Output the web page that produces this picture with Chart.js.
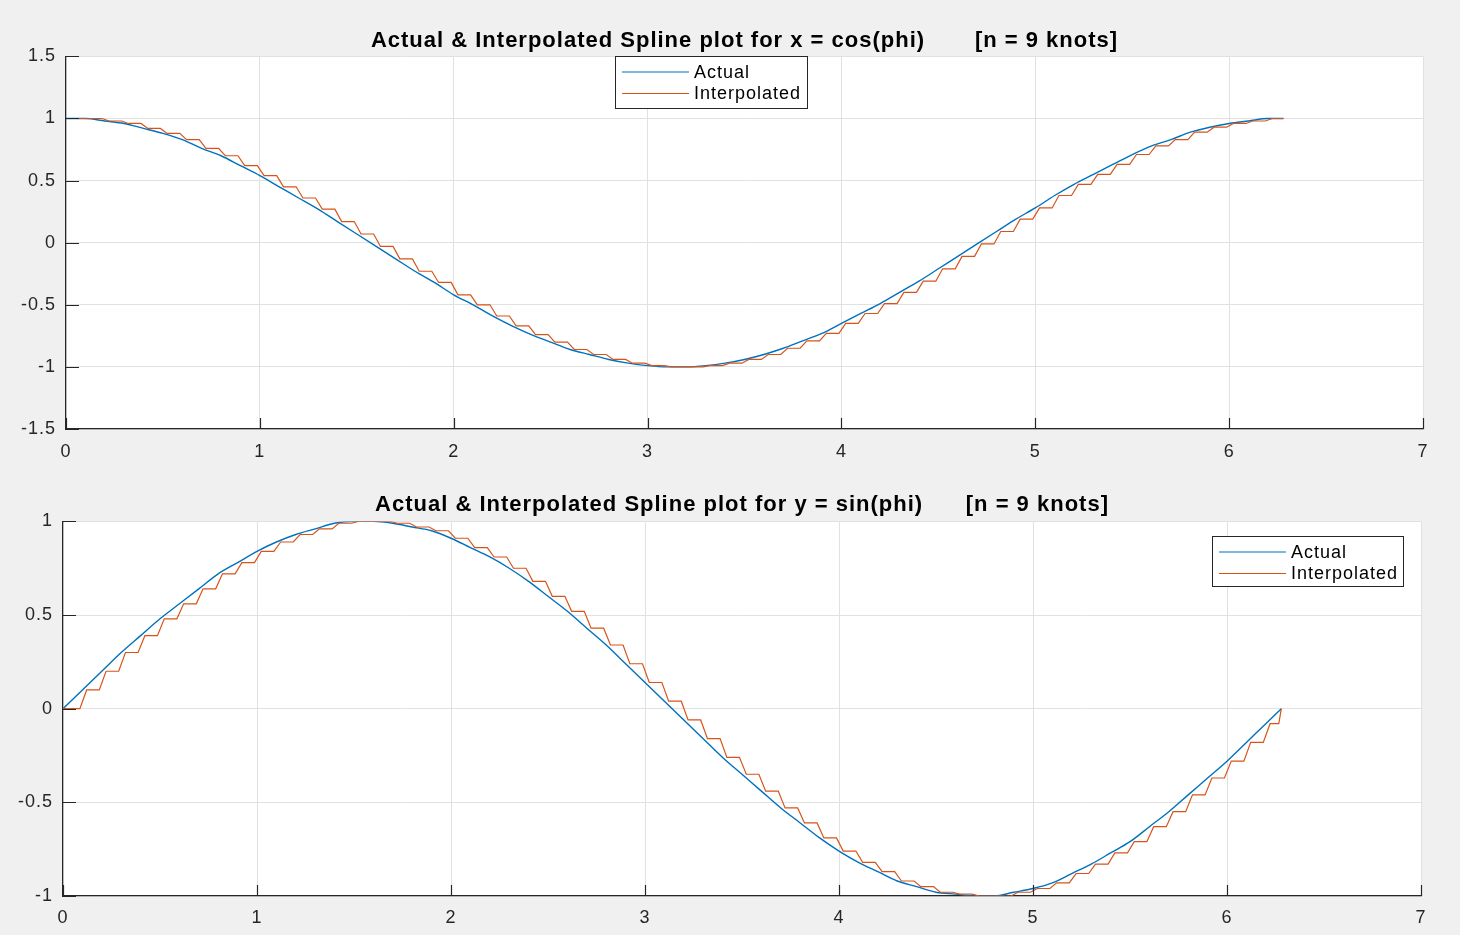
<!DOCTYPE html>
<html>
<head>
<meta charset="utf-8">
<title>Actual & Interpolated Spline plots</title>
<script src="https://cdn.jsdelivr.net/npm/chart.js@4.4.1/dist/chart.umd.min.js"></script>
<style>
  html, body { margin: 0; padding: 0; background: #f0f0f0; }
  canvas { position: absolute; left: 0; }
  #cosChart { top: 0; }
  #sinChart { top: 467px; }
</style>
</head>
<body>
<canvas id="cosChart" width="1460" height="467"></canvas>
<canvas id="sinChart" width="1460" height="468"></canvas>
<script>
// knots along phi (0 .. 2*pi)
const phi = [
  0, 0.1, 0.2, 0.3, 0.4, 0.5, 0.6, 0.7, 0.8, 0.9,
  1.0, 1.1, 1.2, 1.3, 1.4, 1.5, 1.6, 1.7, 1.8, 1.9,
  2.0, 2.1, 2.2, 2.3, 2.4, 2.5, 2.6, 2.7, 2.8, 2.9,
  3.0, 3.1, 3.2, 3.3, 3.4, 3.5, 3.6, 3.7, 3.8, 3.9,
  4.0, 4.1, 4.2, 4.3, 4.4, 4.5, 4.6, 4.7, 4.8, 4.9,
  5.0, 5.1, 5.2, 5.3, 5.4, 5.5, 5.6, 5.7, 5.8, 5.9,
  6.0, 6.1, 6.2, 6.28
];

// x = cos(phi)
const cosValues = [
  1.00, 1.00, 0.98, 0.96, 0.92, 0.88, 0.83, 0.76, 0.70, 0.62,
  0.54, 0.45, 0.36, 0.27, 0.17, 0.07, -0.03, -0.13, -0.23, -0.32,
  -0.42, -0.50, -0.59, -0.67, -0.74, -0.80, -0.86, -0.90, -0.94, -0.97,
  -0.99, -1.00, -1.00, -0.99, -0.97, -0.94, -0.90, -0.85, -0.79, -0.73,
  -0.65, -0.57, -0.49, -0.40, -0.31, -0.21, -0.11, -0.01, 0.09, 0.19,
  0.28, 0.38, 0.47, 0.55, 0.63, 0.71, 0.78, 0.83, 0.89, 0.93,
  0.96, 0.98, 1.00, 1.00
];

// y = sin(phi)
const sinValues = [
  0.00, 0.10, 0.20, 0.30, 0.39, 0.48, 0.56, 0.64, 0.72, 0.78,
  0.84, 0.89, 0.93, 0.96, 0.99, 1.00, 1.00, 0.99, 0.97, 0.95,
  0.91, 0.86, 0.81, 0.75, 0.68, 0.60, 0.52, 0.43, 0.34, 0.24,
  0.14, 0.04, -0.06, -0.16, -0.26, -0.35, -0.44, -0.53, -0.61, -0.69,
  -0.76, -0.82, -0.87, -0.92, -0.95, -0.98, -0.99, -1.00, -1.00, -0.98,
  -0.96, -0.93, -0.88, -0.83, -0.77, -0.71, -0.63, -0.55, -0.46, -0.37,
  -0.28, -0.18, -0.08, 0.00
];

const seriesNames = ['Actual', 'Interpolated'];
const seriesColors = ['#0072BD', '#D95319'];

const xTicks = [0, 1, 2, 3, 4, 5, 6, 7];
const cosYTicks = [-1.5, -1, -0.5, 0, 0.5, 1, 1.5];
const sinYTicks = [-1, -0.5, 0, 0.5, 1];

const FONT = '"Liberation Sans", Arial, Helvetica, sans-serif';
const AXIS_COLOR = '#262626';
const GRID_COLOR = '#e1e1e1';

// interpolated curve holds each knot value until the next knot (short slope on the jump)
function stairPoints(xs, ys) {
    const last = xs[xs.length - 1];
    const pts = [{ x: xs[0], y: ys[0] }];
    for (let i = 1; i < xs.length; i++) {
        pts.push({ x: xs[i] - 0.013, y: ys[i - 1] });
        pts.push({ x: Math.min(xs[i] + 0.022, last), y: ys[i] });
    }
    return pts;
}

function curvePoints(xs, ys) {
    return xs.map((x, i) => ({ x: x, y: ys[i] }));
}

// white plot box, inward ticks and boxed legend like the MATLAB figure
const matlabAxes = {
    id: 'matlabAxes',
    beforeDraw(chart) {
        const { ctx, chartArea: a } = chart;
        ctx.save();
        ctx.fillStyle = '#ffffff';
        ctx.fillRect(a.left, a.top, a.right - a.left, a.bottom - a.top);
        ctx.restore();
        // MATLAB renders its text a bit wider
        ctx.letterSpacing = '1px';
    },
    afterDraw(chart, args, opts) {
        const { ctx, chartArea: a, scales } = chart;
        ctx.save();
        ctx.strokeStyle = AXIS_COLOR;
        ctx.lineWidth = 1.2;
        ctx.beginPath();
        scales.x.ticks.forEach(t => {
            const px = Math.round(scales.x.getPixelForValue(t.value)) + 0.5;
            ctx.moveTo(px, a.bottom);
            ctx.lineTo(px, a.bottom - 11);
        });
        scales.y.ticks.forEach(t => {
            const py = Math.round(scales.y.getPixelForValue(t.value)) + 0.5;
            ctx.moveTo(a.left, py);
            ctx.lineTo(a.left + 13, py);
        });
        ctx.stroke();

        // legend
        const lg = opts.legend;
        ctx.fillStyle = '#ffffff';
        ctx.fillRect(lg.left, lg.top, lg.width, lg.height);
        ctx.strokeStyle = AXIS_COLOR;
        ctx.lineWidth = 1;
        ctx.strokeRect(lg.left + 0.5, lg.top + 0.5, lg.width, lg.height);
        ctx.font = '18px ' + FONT;
        ctx.textBaseline = 'middle';
        ctx.textAlign = 'left';
        chart.data.datasets.forEach((ds, i) => {
            const y = lg.top + 16 + i * 21.5;
            ctx.strokeStyle = ds.borderColor;
            ctx.lineWidth = 1.2;
            ctx.beginPath();
            ctx.moveTo(lg.left + 7, y);
            ctx.lineTo(lg.left + 74, y);
            ctx.stroke();
            ctx.fillStyle = '#000000';
            ctx.fillText(ds.label, lg.left + 79, y + 1);
        });
        ctx.restore();
    }
};

function makePlot(canvasId, cfg) {
    const ctx = document.getElementById(canvasId).getContext('2d');
    return new Chart(ctx, {
        type: 'line',
        data: {
            datasets: [{
                label: seriesNames[0],
                data: curvePoints(phi, cfg.values),
                borderColor: seriesColors[0],
                borderWidth: 1.4,
                pointRadius: 0,
                cubicInterpolationMode: 'monotone',
                order: 1
            }, {
                label: seriesNames[1],
                data: stairPoints(phi, cfg.values),
                borderColor: seriesColors[1],
                borderWidth: 1.2,
                pointRadius: 0,
                tension: 0,
                order: 0
            }]
        },
        options: {
            responsive: false,
            animation: false,
            devicePixelRatio: 1,
            layout: { padding: { top: 0, right: cfg.padRight, bottom: 0, left: 0 } },
            scales: {
                x: {
                    type: 'linear',
                    min: 0,
                    max: 7,
                    afterBuildTicks: s => { s.ticks = xTicks.map(v => ({ value: v })); },
                    afterFit: s => { s.height = cfg.xAxisHeight; },
                    grid: { color: GRID_COLOR, drawTicks: false },
                    border: { color: AXIS_COLOR, width: 1.2 },
                    ticks: {
                        color: AXIS_COLOR, font: { family: FONT, size: 18 }, padding: cfg.xPad,
                        maxRotation: 0, autoSkip: false, callback: v => String(v)
                    }
                },
                y: {
                    type: 'linear',
                    min: cfg.yTicks[0],
                    max: cfg.yTicks[cfg.yTicks.length - 1],
                    afterBuildTicks: s => { s.ticks = cfg.yTicks.map(v => ({ value: v })); },
                    afterFit: s => { s.width = cfg.yAxisWidth; },
                    grid: { color: GRID_COLOR, drawTicks: false },
                    border: { color: AXIS_COLOR, width: 1.2 },
                    ticks: {
                        color: AXIS_COLOR, font: { family: FONT, size: 18 }, padding: 10,
                        autoSkip: false, callback: v => String(v)
                    }
                }
            },
            plugins: {
                legend: { display: false },
                tooltip: { enabled: false },
                title: {
                    display: true,
                    fullSize: false,
                    text: cfg.title,
                    color: '#000000',
                    font: { family: FONT, size: 22, weight: 'bold', lineHeight: 1.2 },
                    padding: cfg.titlePadding
                },
                matlabAxes: { legend: cfg.legend }
            }
        },
        plugins: [matlabAxes]
    });
}

makePlot('cosChart', {
    values: cosValues,
    yTicks: cosYTicks,
    title: 'Actual & Interpolated Spline plot for x = cos(phi)       [n = 9 knots]',
    titlePadding: { top: 28, bottom: 2 },
    padRight: 37,
    xAxisHeight: 38,
    xPad: 12,
    yAxisWidth: 66,
    legend: { left: 615, top: 56, width: 192, height: 52 }
});

makePlot('sinChart', {
    values: sinValues,
    yTicks: sinYTicks,
    title: 'Actual & Interpolated Spline plot for y = sin(phi)      [n = 9 knots]',
    titlePadding: { top: 25, bottom: 3 },
    padRight: 39,
    xAxisHeight: 39,
    xPad: 11,
    yAxisWidth: 63,
    legend: { left: 1212, top: 69, width: 191, height: 50 }
});
</script>
</body>
</html>
